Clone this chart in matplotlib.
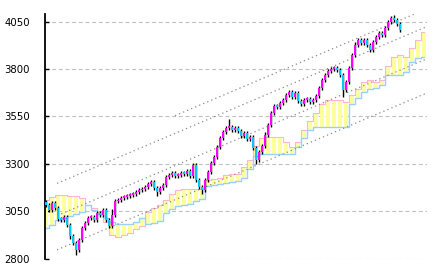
import numpy as np
import matplotlib
matplotlib.use("Agg")
import matplotlib.pyplot as plt

# ---- price data (one bar per index) ----
first_open = 3100
closes = [3083, 3057, 3094, 3067, 3009, 3004, 3020, 2978, 2920, 2883,
          2846, 2899, 2962, 2988, 3015, 3020, 3004, 3041, 3030, 3057,
          3004, 2973, 3030, 3104, 3110, 3120, 3126, 3131, 3136, 3141,
          3152, 3162, 3168, 3178, 3194, 3205, 3173, 3152, 3173, 3189,
          3231, 3242, 3252, 3236, 3242, 3252, 3247, 3263, 3236, 3294,
          3215, 3178, 3162, 3215, 3257, 3305, 3336, 3389, 3437, 3468,
          3489, 3495, 3479, 3489, 3474, 3447, 3463, 3432, 3442, 3384,
          3321, 3363, 3395, 3453, 3505, 3568, 3605, 3600, 3621, 3637,
          3663, 3679, 3653, 3674, 3632, 3616, 3637, 3642, 3627, 3637,
          3658, 3700, 3743, 3769, 3790, 3801, 3806, 3795, 3769, 3690,
          3732, 3806, 3874, 3927, 3953, 3937, 3953, 3927, 3901, 3943,
          3969, 3990, 3980, 4017, 4048, 4069, 4059, 4038, 4006]
high_marks = {49: 3305, 61: 3535, 103: 3940, 116: 4085, 73: 3470, 22: 3060}
low_marks = {10: 2822, 37: 3128, 52: 3140, 70: 3300, 99: 3655, 21: 2960, 8: 2905}

# ---- cloud (one column per two bars) ----
span_a = [3110, 3126, 3136, 3136, 3131, 3131, 3120, 3083, 3067, 3046,
          2994, 2925, 2915, 2925, 2936, 2957, 2973, 3046, 3067, 3083,
          3110, 3141, 3162, 3168, 3168, 3168, 3168, 3215, 3220, 3226,
          3242, 3247, 3247, 3284, 3321, 3395, 3437, 3442, 3442, 3442,
          3416, 3389, 3416, 3479, 3526, 3568, 3616, 3637, 3637, 3637,
          3627, 3663, 3695, 3732, 3743, 3732, 3743, 3816, 3864, 3874,
          3864, 3911, 3953, 3996]
span_b = [2962, 2978, 3004, 3015, 3025, 3036, 3046, 3083, 3057, 3036,
          3015, 2994, 2983, 2983, 2983, 2994, 3015, 2983, 2988, 2999,
          3041, 3062, 3078, 3083, 3088, 3104, 3115, 3183, 3189, 3194,
          3199, 3205, 3210, 3226, 3273, 3342, 3352, 3352, 3352, 3352,
          3352, 3352, 3389, 3437, 3479, 3495, 3495, 3495, 3495, 3495,
          3495, 3616, 3648, 3679, 3695, 3700, 3716, 3769, 3769, 3769,
          3785, 3837, 3859, 3864]

# ---- dotted trend lines: (start index, start value, end index, end value) ----
trend_lines = [(3.7, 3197, 127, 4024),
               (3.7, 3027, 127, 3854),
               (3.7, 2847, 127, 3674),
               (43, 3554, 127, 4118)]

yticks = [2800, 3050, 3300, 3550, 3800, 4050]

W, H = 433, 272
fig = plt.figure(figsize=(W / 100, H / 100), dpi=100)
ax = fig.add_axes([45 / W, 1 - 258.7 / H, (427 - 45) / W, (258.7 - 14) / H])

ax.set_xlim(-0.33, 127)
ax.set_ylim(2800, 4090)

# grid
ax.set_yticks(yticks)
ax.yaxis.grid(True, linestyle=(0, (3.5, 2.5)), color='#c0c0c0', lw=0.8, zorder=0)
ax.set_axisbelow(True)

# cloud
ci = np.arange(len(span_a)) * 2
a = np.array(span_a, float)
b = np.array(span_b, float)
ax.bar(ci, np.abs(a - b), bottom=np.minimum(a, b), width=1.55,
       color='#ffff9c', lw=0, zorder=1)
ax.plot(ci, a, drawstyle='steps-mid', color='#ffb4d4', lw=0.8, zorder=2)
ax.plot(ci, b, drawstyle='steps-mid', color='#9ccfff', lw=1.0, zorder=2)

# trend lines
for x0, v0, x1, v1 in trend_lines:
    ax.plot([x0, x1], [v0, v1], color='#8a8a8a', lw=0.9,
            linestyle=(0, (1, 2.5)), zorder=3)

# candles
c = np.array(closes, float)
o = np.concatenate([[first_open], c[:-1]])
idx = np.arange(len(c))
hi = np.maximum(o, c) + 10
lo = np.minimum(o, c) - 10
for k, v in high_marks.items():
    hi[k] = v
for k, v in low_marks.items():
    lo[k] = v
ax.vlines(idx, lo, hi, color='black', lw=1.0, zorder=4)
up = c >= o
cols = np.where(up, '#ff00ff', '#00c8ff')
heights = np.maximum(np.abs(c - o), 8)
ax.bar(idx, heights, bottom=np.minimum(o, c), width=0.8, color=cols,
       lw=0, zorder=5)

for s in ['top', 'right', 'bottom']:
    ax.spines[s].set_visible(False)
ax.spines['left'].set_linewidth(1.3)
ax.set_xticks([])
ax.tick_params(axis='y', direction='in', length=3, width=1, pad=11,
               labelsize=7.3, colors='black')

fig.savefig('out.png', dpi=100)
